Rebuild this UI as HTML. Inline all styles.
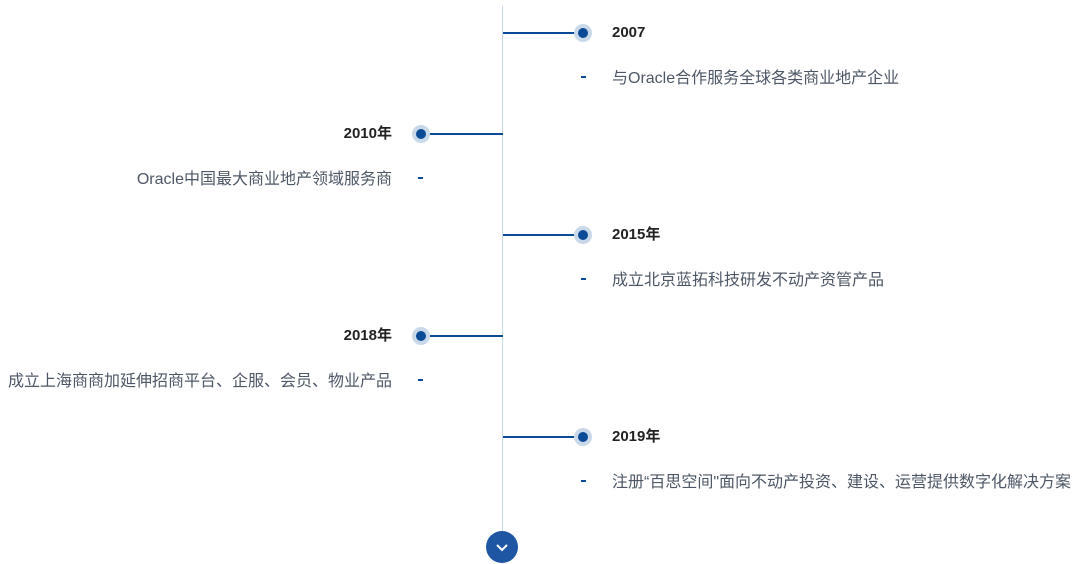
<!DOCTYPE html>
<html><head><meta charset="utf-8"><style>
body{margin:0;width:1077px;height:564px;background:#fff;position:relative;overflow:hidden;font-family:"Liberation Sans","Noto Sans CJK SC",sans-serif}
.a{position:absolute}
.vl{left:502px;top:6px;width:1px;height:526px;background:#c5d9ee}
.hl{height:2px;background:#0b4a96;width:75px}
.dot{width:18px;height:18px;border-radius:50%;background:#c9d9ea}
.dot::after{content:"";position:absolute;left:4px;top:4px;width:10px;height:10px;border-radius:50%;background:#0b4a96}
.yr{font-weight:bold;font-size:15px;color:#222;line-height:20px;white-space:nowrap}
.ds{font-size:16px;color:#4d5766;line-height:22px;white-space:nowrap}
.dash{width:5px;height:2px;background:#0b4a96}
.r{text-align:right;width:392px;left:0}
</style></head><body>
<div class="a vl"></div>

<div class="a hl" style="left:503px;top:32px"></div>
<div class="a dot" style="left:574px;top:24px"></div>
<div class="a yr" style="left:612px;top:23px">2007</div>
<div class="a dash" style="left:581px;top:76px"></div>
<div class="a ds" style="left:612px;top:68px">与Oracle合作服务全球各类商业地产企业</div>

<div class="a hl" style="left:428px;top:133px"></div>
<div class="a dot" style="left:412px;top:125px"></div>
<div class="a yr r" style="top:124px">2010年</div>
<div class="a dash" style="left:418px;top:177px"></div>
<div class="a ds r" style="top:169px">Oracle中国最大商业地产领域服务商</div>

<div class="a hl" style="left:503px;top:234px"></div>
<div class="a dot" style="left:574px;top:226px"></div>
<div class="a yr" style="left:612px;top:225px">2015年</div>
<div class="a dash" style="left:581px;top:278px"></div>
<div class="a ds" style="left:612px;top:270px">成立北京蓝拓科技研发不动产资管产品</div>

<div class="a hl" style="left:428px;top:335px"></div>
<div class="a dot" style="left:412px;top:327px"></div>
<div class="a yr r" style="top:326px">2018年</div>
<div class="a dash" style="left:418px;top:379px"></div>
<div class="a ds r" style="top:371px">成立上海商商加延伸招商平台、企服、会员、物业产品</div>

<div class="a hl" style="left:503px;top:436px"></div>
<div class="a dot" style="left:574px;top:428px"></div>
<div class="a yr" style="left:612px;top:427px">2019年</div>
<div class="a dash" style="left:581px;top:480px"></div>
<div class="a ds" style="left:612px;top:472px">注册“百思空间"面向不动产投资、建设、运营提供数字化解决方案</div>

<div class="a" style="left:486px;top:531px;width:32px;height:32px;border-radius:50%;background:#1f56a3"></div>
<svg class="a" style="left:486px;top:531px" width="32" height="32"><polyline points="11,14 16,19 21,14" fill="none" stroke="#fff" stroke-width="2"/></svg>
</body></html>
